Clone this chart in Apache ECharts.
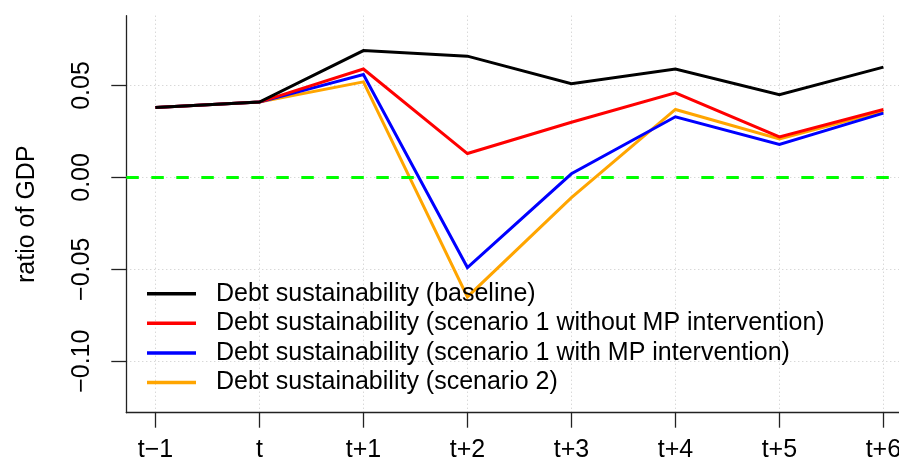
<!DOCTYPE html>
<html>
<head>
<meta charset="utf-8">
<script src="https://cdn.jsdelivr.net/npm/echarts@6/dist/echarts.min.js"></script>
<style>
html,body{margin:0;padding:0;background:#fff;}
#chart{width:899px;height:464px;}
</style>
</head>
<body>
<div id="chart"></div>
<script>
var categories = ['t\u22121', 't', 't+1', 't+2', 't+3', 't+4', 't+5', 't+6'];
var seriesNames = [
  'Debt sustainability (baseline)',
  'Debt sustainability (scenario 1 without MP intervention)',
  'Debt sustainability (scenario 1 with MP intervention)',
  'Debt sustainability (scenario 2)'
];
var baseline   = [0.038, 0.041, 0.069, 0.066, 0.051, 0.059, 0.045, 0.060];
var scen1NoMP  = [0.038, 0.041, 0.059, 0.013, 0.030, 0.046, 0.022, 0.037];
var scen1MP    = [0.038, 0.041, 0.056, -0.049, 0.002, 0.033, 0.018, 0.035];
var scen2      = [0.038, 0.041, 0.052, -0.065, -0.011, 0.037, 0.021, 0.036];
var yTicks = [-0.10, -0.05, 0.00, 0.05];
var xTickIdx = categories.map(function (c, i) { return i; });

function pairs(arr) { return arr.map(function (v, i) { return [i, v]; }); }
function fmtY(v) {
  var s = Math.abs(v).toFixed(2);
  return (v < -1e-9 ? '\u2212' : '') + s;
}
var FONT = 'Liberation Sans, Arial, Helvetica, sans-serif';

var chart = echarts.init(document.getElementById('chart'), null, {renderer: 'canvas'});
var lineW = 3;
function mkSeries(name, data, color, extra) {
  var s = {
    name: name, type: 'line', data: pairs(data),
    showSymbol: false, symbol: 'none', color: color,
    itemStyle: {color: color},
    lineStyle: {color: color, width: lineW, join: 'miter'},
    emphasis: {disabled: true}, silent: true
  };
  if (extra) for (var k in extra) s[k] = extra[k];
  return s;
}
var option = {
  animation: false,
  backgroundColor: '#ffffff',
  grid: {left: 126.3, top: 15.7, right: 0, height: 397, containLabel: false, outerBoundsMode: 'none'},
  xAxis: {
    type: 'value', min: -0.28, max: 7.15,
    axisLine: {show: true, onZero: false, lineStyle: {color: '#222', width: 1.3}},
    axisTick: {show: true, length: 15, customValues: xTickIdx, lineStyle: {color: '#222', width: 1.3}},
    axisLabel: {customValues: xTickIdx, margin: 25, color: '#000', fontSize: 25, fontFamily: FONT,
      hideOverlap: false,
      formatter: function (v) { return categories[Math.round(v)]; }},
    splitLine: {show: true, lineStyle: {color: '#c8c8c8', width: 1, type: [1, 3]}}
  },
  yAxis: {
    type: 'value', min: -0.128, max: 0.088,
    name: 'ratio of GDP', nameLocation: 'middle', nameGap: 87,
    nameTextStyle: {color: '#000', fontSize: 25, fontFamily: FONT},
    axisLine: {show: true, onZero: false, lineStyle: {color: '#222', width: 1.3}},
    axisTick: {show: true, length: 15, customValues: yTicks, lineStyle: {color: '#222', width: 1.3}},
    axisLabel: {customValues: yTicks, rotate: 90, margin: 32, color: '#000', fontSize: 25, fontFamily: FONT,
      formatter: fmtY},
    splitLine: {show: true, lineStyle: {color: '#c8c8c8', width: 1, type: [1, 3]}}
  },
  legend: {
    orient: 'vertical', left: 147, top: 281.2, padding: 0,
    data: seriesNames,
    icon: 'rect', itemWidth: 49, itemHeight: 3.5, itemGap: 4.6,
    textStyle: {color: '#000', fontSize: 25, fontFamily: FONT, lineHeight: 25, padding: [0, 0, 0, 15]},
    selectedMode: false
  },
  series: [
    mkSeries(seriesNames[3], scen2, '#FFA500', {
      markLine: {
        silent: true, symbol: ['none', 'none'], label: {show: false},
        lineStyle: {color: '#00FF00', width: 3, type: [12.5, 12.5]},
        emphasis: {disabled: true},
        data: [{yAxis: 0}]
      }
    }),
    mkSeries(seriesNames[2], scen1MP, '#0000FF'),
    mkSeries(seriesNames[1], scen1NoMP, '#FF0000'),
    mkSeries(seriesNames[0], baseline, '#000000')
  ]
};
chart.setOption(option);
</script>
</body>
</html>
